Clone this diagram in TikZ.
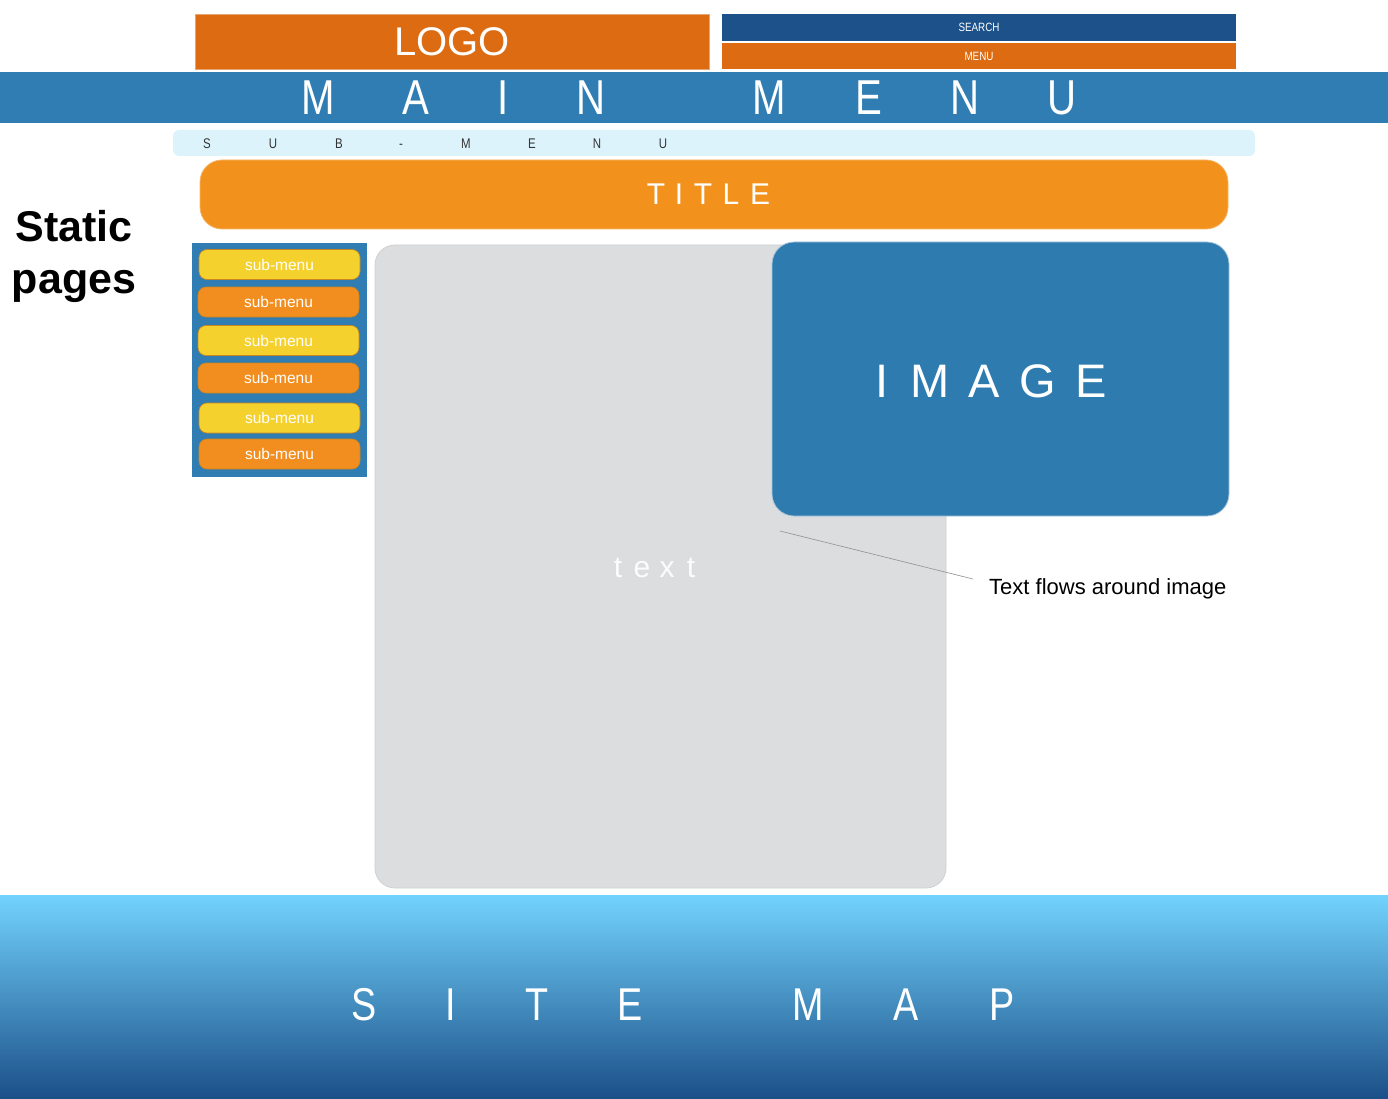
\documentclass[tikz,border=0pt]{standalone}
\usepackage{fontspec}
\setmainfont{Liberation Sans}
\definecolor{logoorange}{HTML}{DC6B12}
\definecolor{searchblue}{HTML}{1C5189}
\definecolor{mainblue}{HTML}{2F7DB2}
\definecolor{sublight}{HTML}{DDF3FC}
\definecolor{titleorange}{HTML}{F2921D}
\definecolor{titleedge}{HTML}{F6B565}
\definecolor{btnyellow}{HTML}{F5D12D}
\definecolor{btnorange}{HTML}{F28E1F}
\definecolor{btnedge}{HTML}{C9861C}
\definecolor{textgray}{HTML}{DCDDDF}
\definecolor{textedge}{HTML}{CFD0D2}
\definecolor{imgblue}{HTML}{2E7BB0}
\definecolor{imgedge}{HTML}{A9C7DC}
\definecolor{smtop}{HTML}{72D3FD}
\definecolor{smmid}{HTML}{4A97CB}
\definecolor{smbot}{HTML}{1B4F88}
\definecolor{sublettercol}{HTML}{333333}
\newcommand\condense[1]{\scalebox{0.82}[1]{#1}}
\begin{document}
\begin{tikzpicture}[x=1pt,y=-1pt,
  box/.style={rectangle, inner sep=0pt, outer sep=0pt, draw=none},
  bigletter/.style={anchor=base, inner sep=0pt, text=white, font=\fontsize{49}{55}\selectfont},
  sitemapletter/.style={anchor=base, inner sep=0pt, text=white, font=\fontsize{46}{52}\selectfont},
  subletter/.style={anchor=base, inner sep=0pt, text=sublettercol, font=\fontsize{14}{16}\selectfont},
  titleletter/.style={anchor=base, inner sep=0pt, text=white, font=\fontsize{30}{34}\selectfont},
  imageletter/.style={anchor=base, inner sep=0pt, text=white, font=\fontsize{47}{52}\selectfont},
  textletter/.style={anchor=base, inner sep=0pt, text=white!90!textgray, font=\fontsize{30}{34}\selectfont},
  subbtn/.style={box, rounded corners=8pt, draw=btnedge, line width=0.6pt,
     minimum width=161pt, minimum height=30pt, text=white, font=\fontsize{15.5}{18}\selectfont},
  callout/.style={draw=gray!80, line width=0.7pt}
]
\useasboundingbox (0,0) rectangle (1388,1099);

% header boxes
\node[box, fill=logoorange, draw=logoorange!60!white, line width=0.6pt,
  minimum width=514pt, minimum height=55pt, text=white,
  font=\fontsize{40}{44}\selectfont] (logo) at (452,41.5) {LOGO};
\node[box, fill=searchblue, minimum width=514pt, minimum height=27pt, text=white,
  font=\fontsize{12}{14}\selectfont] (search) at (979,27.5) {\condense{SEARCH}};
\node[box, fill=logoorange, minimum width=514pt, minimum height=26pt, text=white,
  font=\fontsize{12}{14}\selectfont] (menu) at (979,56) {\condense{MENU}};

% main menu bar
\node[box, fill=mainblue, minimum width=1388pt, minimum height=51pt] (mainbar) at (694,97.5) {};
\foreach \l/\x [count=\i] in {M/318,A/416,I/503,N/591,M/769,E/869,N/965,U/1062}
  \node[bigletter] (mm\i) at (\x,115) {\condense{\l}};

% sub-menu bar
\node[box, fill=sublight, rounded corners=6pt, minimum width=1082pt, minimum height=26pt] (subbar) at (714,143) {};
\foreach \l/\x [count=\i] in {S/207,U/273,B/339,-/401,M/466,E/532,N/597,U/663}
  \node[subletter] (sm\i) at (\x,149) {\condense{\l}};

% title
\node[box, fill=titleorange, draw=titleedge, line width=0.8pt, rounded corners=22pt,
  minimum width=1028pt, minimum height=69pt] (title) at (714,194.5) {};
\foreach \l/\x [count=\i] in {T/656,I/679,T/703,L/731,E/760}
  \node[titleletter] (tt\i) at (\x,205) {\l};

% static pages label
\node[anchor=base, inner sep=0pt, font=\fontsize{43}{48}\selectfont\bfseries] (static) at (74,242) {Static};
\node[anchor=base, inner sep=0pt, font=\fontsize{43}{48}\selectfont\bfseries] (pages) at (74,293) {pages};

% left panel with sub-menu buttons
\node[box, fill=mainblue, minimum width=175pt, minimum height=234pt] (panel) at (279.5,360) {};
\node[subbtn, fill=btnyellow] (b1) at (279.5,264.5) {sub-menu};
\node[subbtn, fill=btnorange] (b2) at (278.5,302) {sub-menu};
\node[subbtn, fill=btnyellow] (b3) at (278.5,340.5) {sub-menu};
\node[subbtn, fill=btnorange] (b4) at (278.5,378) {sub-menu};
\node[subbtn, fill=btnyellow] (b5) at (279.5,418) {sub-menu};
\node[subbtn, fill=btnorange] (b6) at (279.5,454) {sub-menu};

% text area
\node[box, fill=textgray, draw=textedge, line width=0.8pt, rounded corners=20pt,
  minimum width=571pt, minimum height=643pt] (textarea) at (660.5,566.5) {};
\foreach \l/\x [count=\i] in {t/618,e/642,x/667,t/691}
  \node[textletter] (tx\i) at (\x,577) {\l};

% image
\node[box, fill=imgblue, draw=imgedge, line width=0.8pt, rounded corners=22pt,
  minimum width=457pt, minimum height=274pt] (image) at (1000.5,379) {};
\foreach \l/\x [count=\i] in {I/882,M/930,A/984,G/1038,E/1091}
  \node[imageletter] (im\i) at (\x,397) {\l};

% callout
\node[anchor=base west, inner sep=0pt, font=\fontsize{22}{25}\selectfont] (flow) at (989,594) {Text flows around image};
\coordinate (ptr) at (780,531);
\coordinate (ptrend) at (973,579);
\draw[callout] (ptrend) -- (ptr);

% site map
\node[box, top color=smtop, middle color=smmid, bottom color=smbot,
  minimum width=1388pt, minimum height=204pt] (sitemap) at (694,997) {};
\foreach \l/\x [count=\i] in {S/364,I/451,T/537,E/630,M/808,A/906,P/1002}
  \node[sitemapletter] (st\i) at (\x,1020) {\condense{\l}};
\end{tikzpicture}
\end{document}
